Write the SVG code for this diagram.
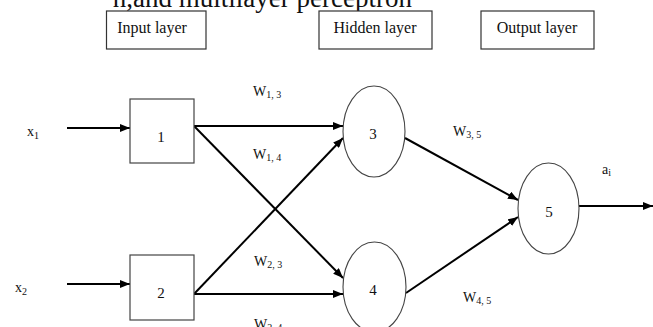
<svg xmlns="http://www.w3.org/2000/svg" width="653" height="327" viewBox="0 0 653 327">
<style>
text{font-family:"Liberation Serif","Times New Roman",serif;fill:#111}
.hb{fill:#fff;stroke:#333;stroke-width:1.2}
.hl{font-size:16px;text-anchor:middle}
.nb{fill:#fff;stroke:#444;stroke-width:1.2}
.ne{fill:#fff;stroke:#444;stroke-width:1.1}
.num{font-size:15px;text-anchor:middle}
.lbl{font-size:14px}
.sub{font-size:10px}
.c{stroke:#000;stroke-width:2;fill:none}
.ca{stroke:#000;stroke-width:2;fill:none;marker-end:url(#ah)}
</style>
<defs>
<marker id="ah" markerUnits="userSpaceOnUse" markerWidth="10" markerHeight="8" refX="10" refY="4" orient="auto">
<path d="M0,0 L10,4 L0,8 z" fill="#000"/>
</marker>
</defs>
<rect width="653" height="327" fill="#fff"/>
<text x="412" y="7" font-size="27" text-anchor="end">n,and multilayer perceptron</text>
<g id="hdr-input"><rect class="hb" x="106.5" y="11" width="99.5" height="38"/><text class="hl" x="152" y="33">Input layer</text></g>
<g id="hdr-hidden"><rect class="hb" x="319" y="11" width="113" height="38"/><text class="hl" x="375" y="33">Hidden layer</text></g>
<g id="hdr-output"><rect class="hb" x="481" y="11" width="113" height="38"/><text class="hl" x="537" y="33">Output layer</text></g>
<g id="connectors">
<line class="ca" x1="67" y1="128" x2="130" y2="128"/>
<line class="ca" x1="67" y1="284" x2="130" y2="284"/>
<line class="ca" x1="194" y1="126" x2="343" y2="126"/>
<line class="ca" x1="194" y1="126" x2="343" y2="278"/>
<line class="ca" x1="194" y1="294" x2="343" y2="138"/>
<line class="ca" x1="194" y1="294" x2="343" y2="294"/>
<line class="ca" x1="405" y1="138" x2="518" y2="200"/>
<line class="ca" x1="406" y1="293" x2="518" y2="217"/>
<line class="ca" x1="579" y1="206" x2="653" y2="206"/>
</g>
<g id="in-x1"><text class="lbl" x="27" y="136">x<tspan class="sub" dy="3">1</tspan></text></g>
<g id="in-x2"><text class="lbl" x="15" y="292">x<tspan class="sub" dy="3">2</tspan></text></g>
<g id="node1"><rect class="nb" x="130" y="99" width="64" height="64"/><text class="num" x="161" y="142">1</text></g>
<g id="node2"><rect class="nb" x="130" y="255" width="64" height="65"/><text class="num" x="161" y="298">2</text></g>
<g id="node3"><ellipse class="ne" cx="374" cy="131.5" rx="31" ry="45.5"/><text class="num" x="373" y="139">3</text></g>
<g id="node4"><ellipse class="ne" cx="374.5" cy="287" rx="31.5" ry="45"/><text class="num" x="373" y="295">4</text></g>
<g id="node5"><ellipse class="ne" cx="548.5" cy="208.5" rx="30.5" ry="45.5"/><text class="num" x="549" y="217">5</text></g>
<g id="weights">
<text class="lbl" x="253" y="96">W<tspan class="sub" dy="2">1, 3</tspan></text>
<text class="lbl" x="253" y="159">W<tspan class="sub" dy="2">1, 4</tspan></text>
<text class="lbl" x="254" y="266">W<tspan class="sub" dy="2">2, 3</tspan></text>
<text class="lbl" x="254" y="329">W<tspan class="sub" dy="2">2, 4</tspan></text>
<text class="lbl" x="453" y="136">W<tspan class="sub" dy="2">3, 5</tspan></text>
<text class="lbl" x="463" y="302">W<tspan class="sub" dy="2">4, 5</tspan></text>
<text class="lbl" x="602" y="174">a<tspan class="sub" dy="2">i</tspan></text>
</g>
</svg>
